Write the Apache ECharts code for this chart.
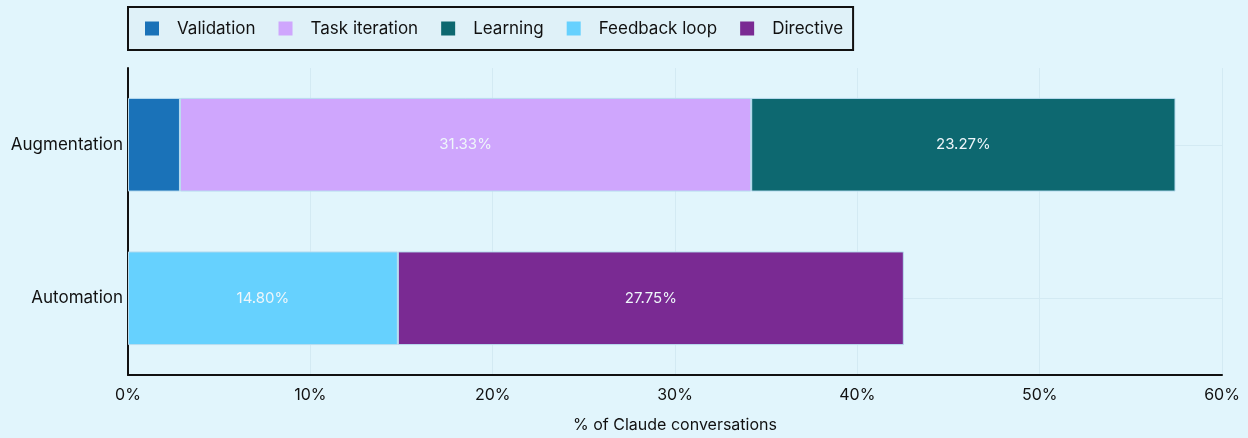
<!DOCTYPE html>
<html>
<head>
<meta charset="utf-8">
<script src="https://cdn.jsdelivr.net/npm/echarts@6/dist/echarts.min.js"></script>
<style>
  html, body { margin: 0; padding: 0; background: #e1f5fc; }
  #chart { width: 1248px; height: 438px; }
</style>
</head>
<body>
<div id="chart"></div>
<script>
// categories, top to bottom
const categories = ['Augmentation', 'Automation']
// series values (% of conversations), one per category
const validation = [2.85, null]
const taskIteration = [31.33, null]
const learning = [23.27, null]
const feedbackLoop = [null, 14.80]
const directive = [null, 27.75]
const xTicks = [0, 10, 20, 30, 40, 50, 60]

const colors = {
  'Validation': '#1a72b8',
  'Task iteration': '#cfa6fd',
  'Learning': '#0d6870',
  'Feedback loop': '#66d1fe',
  'Directive': '#7a2a93'
}

const chart = echarts.init(document.getElementById('chart'))

function bar(name, data, showLabel) {
  return {
    name: name,
    type: 'bar',
    stack: 'total',
    barWidth: '61%',
    z: 3,
    data: data,
    itemStyle: {
      color: colors[name],
      borderColor: '#b9dcef',
      borderWidth: 1
    },
    label: {
      show: showLabel,
      position: 'inside',
      color: '#eef6fa',
      fontFamily: 'Inter',
      fontSize: 15,
      formatter: p => p.value == null ? '' : p.value.toFixed(2) + '%'
    }
  }
}

const option = {
  backgroundColor: '#e1f5fc',
  textStyle: { fontFamily: 'Inter' },
  legend: {
    left: 128,
    top: 7,
    padding: [13, 10, 13, 17],
    borderColor: '#111',
    borderWidth: 2,
    backgroundColor: '#dff1f8',
    itemWidth: 14,
    itemHeight: 14,
    itemGap: 23,
    icon: 'rect',
    itemStyle: { borderWidth: 0 },
    textStyle: { fontSize: 17, color: '#111', padding: [0, 0, 0, 13] },
    data: Object.keys(colors)
  },
  grid: { left: 128, right: 26, top: 68, bottom: 63 },
  xAxis: {
    type: 'value',
    min: xTicks[0],
    max: xTicks[xTicks.length - 1],
    interval: 10,
    name: '% of Claude conversations',
    nameLocation: 'middle',
    nameGap: 42,
    nameTextStyle: { fontSize: 16, color: '#111' },
    axisLine: { show: true, lineStyle: { color: '#111', width: 2 } },
    axisTick: { show: false },
    axisLabel: { fontSize: 16, color: '#111', margin: 12, formatter: v => v + '%' },
    splitLine: { show: true, lineStyle: { color: '#d3eaf3', width: 1 } }
  },
  yAxis: {
    type: 'category',
    data: categories,
    inverse: true,
    axisLine: { show: true, lineStyle: { color: '#111', width: 2 } },
    axisTick: { show: false },
    axisLabel: { fontSize: 17, color: '#111', margin: 5 },
    splitLine: { show: false }
  },
  series: [
    // faint horizontal grid lines through the category centres, behind the bars
    {
      type: 'line',
      data: [],
      z: 0,
      silent: true,
      markLine: {
        z: 0,
        silent: true,
        symbol: 'none',
        label: { show: false },
        lineStyle: { color: '#d3eaf3', width: 1, type: 'solid' },
        data: categories.map(c => ({ yAxis: c }))
      }
    },
    bar('Validation', validation, false),
    bar('Task iteration', taskIteration, true),
    bar('Learning', learning, true),
    bar('Feedback loop', feedbackLoop, true),
    bar('Directive', directive, true)
  ]
}

chart.setOption(option)
</script>
</body>
</html>
